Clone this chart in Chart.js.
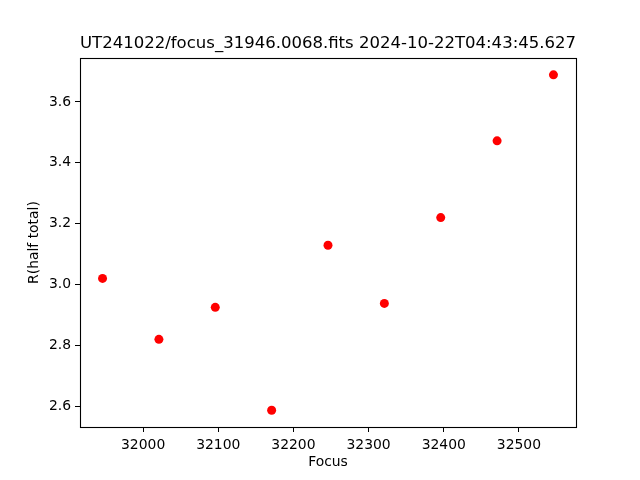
<!DOCTYPE html>
<html>
<head>
<meta charset="utf-8">
<script src="https://cdn.jsdelivr.net/npm/chart.js@4"></script>
<style>html,body{margin:0;padding:0;background:#fff;}canvas{display:block;}</style>
</head>
<body>
<canvas id="c" width="640" height="480"></canvas>
<script>
const titleText = "UT241022/focus_31946.0068.fits 2024-10-22T04:43:45.627";
const xLabel = "Focus";
const yLabel = "R(half total)";
const focusValues = [31946, 32021, 32096, 32171, 32246, 32321, 32396, 32471, 32546];
const radiusValues = [3.020, 2.820, 2.925, 2.587, 3.129, 2.938, 3.220, 3.472, 3.689];
const xTicks = [32000, 32100, 32200, 32300, 32400, 32500];
const yTicks = [2.6, 2.8, 3.0, 3.2, 3.4, 3.6];

const points = focusValues.map((f, i) => ({x: f, y: radiusValues[i]}));
const xMin = Math.min(...focusValues), xMax = Math.max(...focusValues);
const yMin = Math.min(...radiusValues), yMax = Math.max(...radiusValues);
const xPad = (xMax - xMin) * 0.05, yPad = (yMax - yMin) * 0.05;

const FONT = "'DejaVu Sans', sans-serif";

const frame = {
  id: 'frame',
  afterDatasetsDraw(chart) {
    const {ctx, chartArea: a} = chart;
    ctx.save();
    ctx.strokeStyle = '#000';
    ctx.lineWidth = 1.1;
    ctx.strokeRect(Math.round(a.left) + 0.5, Math.round(a.top) + 0.5, Math.round(a.right - a.left), Math.round(a.bottom - a.top));
    ctx.restore();
  }
};

new Chart(document.getElementById('c'), {
  type: 'scatter',
  data: {
    datasets: [{
      data: points,
      backgroundColor: '#ff0000',
      borderColor: '#ff0000',
      borderWidth: 0,
      pointRadius: 4.5,
      pointHoverRadius: 4.5
    }]
  },
  plugins: [frame],
  options: {
    responsive: false,
    animation: false,
    layout: {padding: {left: 0, right: 64, top: 0, bottom: 0}},
    plugins: {
      legend: {display: false},
      tooltip: {enabled: false},
      title: {
        display: true,
        fullSize: false,
        text: titleText,
        color: '#000',
        font: {family: FONT, size: 16.7, weight: 'normal'},
        padding: {top: 34, bottom: 4}
      }
    },
    scales: {
      x: {
        type: 'linear',
        min: xMin - xPad,
        max: xMax + xPad,
        afterFit(s) { s.height = 53; },
        afterBuildTicks(s) { s.ticks = xTicks.map(v => ({value: v})); },
        border: {display: false},
        grid: {display: true, drawOnChartArea: false, drawTicks: true, tickLength: 5, color: '#000', lineWidth: 1},
        ticks: {color: '#000', font: {family: FONT, size: 13.9}, padding: 5, maxRotation: 0, callback: v => String(v)},
        title: {display: true, text: xLabel, color: '#000', font: {family: FONT, size: 13.9}, padding: {top: 0, bottom: 9}}
      },
      y: {
        type: 'linear',
        min: yMin - yPad,
        max: yMax + yPad,
        afterFit(s) { s.width = 80; },
        afterBuildTicks(s) { s.ticks = yTicks.map(v => ({value: v})); },
        border: {display: false},
        grid: {display: true, drawOnChartArea: false, drawTicks: true, tickLength: 5, color: '#000', lineWidth: 1},
        ticks: {color: '#000', font: {family: FONT, size: 13.9}, padding: 4, callback: v => Number(v).toFixed(1)},
        title: {display: true, text: yLabel, color: '#000', font: {family: FONT, size: 13.9}, padding: {top: 26, bottom: 0}}
      }
    }
  }
});
</script>
</body>
</html>
